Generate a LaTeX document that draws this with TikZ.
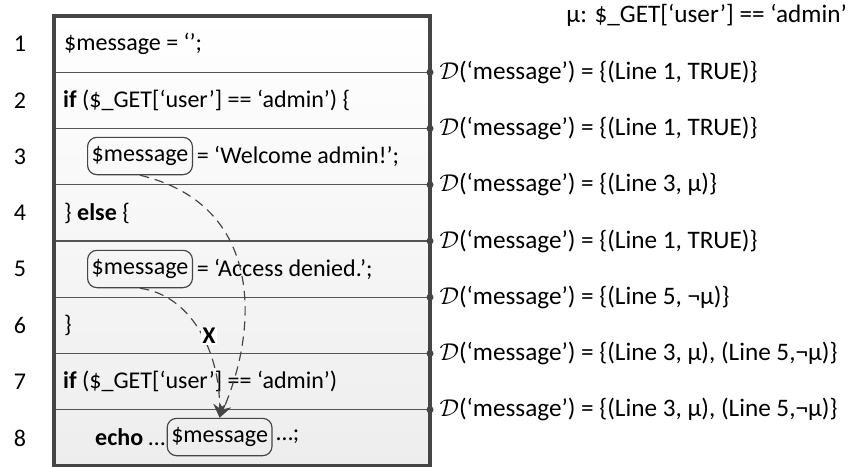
\documentclass[tikz,border=0pt]{standalone}
\usepackage{fontspec}
\setmainfont{Carlito}
\usetikzlibrary{positioning,arrows.meta}
\definecolor{framegray}{HTML}{454545}
\definecolor{sepgray}{HTML}{555555}
\tikzset{
  code/.style={anchor=west,inner sep=0pt},
  lineno/.style={inner sep=0pt},
  var/.style={draw=framegray,line width=1pt,rounded corners=8pt,inner xsep=3.5pt,minimum height=1.12cm,anchor=west},
  defset/.style={anchor=west,inner sep=0pt,font=\fontsize{21.5}{25}\selectfont},
  sep/.style={draw=sepgray,line width=1pt},
  frame/.style={draw=framegray,line width=2.6pt},
  flow/.style={draw=framegray,line width=1pt,dash pattern=on 8pt off 5pt,-{Stealth[length=12pt,width=11pt,inset=4pt]}},
  xmark/.style={fill=white,inner sep=1pt,font=\fontsize{20.5}{24}\selectfont\bfseries}
}

\begin{document}
\begin{tikzpicture}[x=0.03cm,y=-0.03cm,font=\fontsize{20.5}{24}\selectfont]
  \useasboundingbox (0,0) rectangle (848,466);
  % table of lines
  \shade[top color=white,bottom color=black!7] (54,16) rectangle (430,466);
  \foreach \i in {1,...,8}
    \node[lineno] (n\i) at (20,{16+56.25*(\i-0.5)}) {\i};
  \foreach \i in {1,...,7} {
    \coordinate (s\i) at (430,{16+56.25*\i});
    \draw[sep] (54,{16+56.25*\i}) -- (s\i);
    \fill[framegray] (s\i) circle (3pt);
  }
  \draw[frame] (54,16) rectangle (430,466);

  % code
  \node[code] (c1) at (64,44) {\$message = ‘’;};
  \node[code] (c2) at (63,100) {\textbf{if} (\$\_GET[‘user’] == ‘admin’) \{};
  \node[var] (v3) at (87,156) {\$message};
  \node[code,right=3pt of v3] (c3) {= ‘Welcome admin!’;};
  \node[code] (c4) at (64,213) {\} \textbf{else} \{};
  \node[var] (v5) at (87,269) {\$message};
  \node[code,right=3pt of v5] (c5) {= ‘Access denied.’;};
  \node[code] (c6) at (64,325) {\}};
  \node[code] (c7) at (63,381) {\textbf{if} (\$\_GET[‘user’] == ‘admin’)};
  \node[code] (c8) at (95,437) {\textbf{echo} …};
  \node[var,right=1pt of c8] (v8) {\$message};
  \node[code,right=3pt of v8] (c8b) {…;};

  % definitions
  \node[defset,anchor=east] (mu) at (847,15) {µ: \$\_GET[‘user’] == ‘admin’};
  \node[defset,right=8pt of s1] (d1) {$\mathcal{D}$(‘message’) = \{(Line 1, TRUE)\}};
  \node[defset,right=8pt of s2] (d2) {$\mathcal{D}$(‘message’) = \{(Line 1, TRUE)\}};
  \node[defset,right=8pt of s3] (d3) {$\mathcal{D}$(‘message’) = \{(Line 3, µ)\}};
  \node[defset,right=8pt of s4] (d4) {$\mathcal{D}$(‘message’) = \{(Line 1, TRUE)\}};
  \node[defset,right=8pt of s5] (d5) {$\mathcal{D}$(‘message’) = \{(Line 5, ¬µ)\}};
  \node[defset,right=8pt of s6] (d6) {$\mathcal{D}$(‘message’) = \{(Line 3, µ), (Line 5,¬µ)\}};
  \node[defset,right=8pt of s7] (d7) {$\mathcal{D}$(‘message’) = \{(Line 3, µ), (Line 5,¬µ)\}};

  % data flow
  \draw[flow] (v3.south) .. controls (265,205) and (258,330) .. (v8.north);
  \draw[flow] (v5.south) .. controls (190,295) and (220,350) .. (v8.north);
  \node[xmark] (x) at (209,336) {X};
\end{tikzpicture}
\end{document}
